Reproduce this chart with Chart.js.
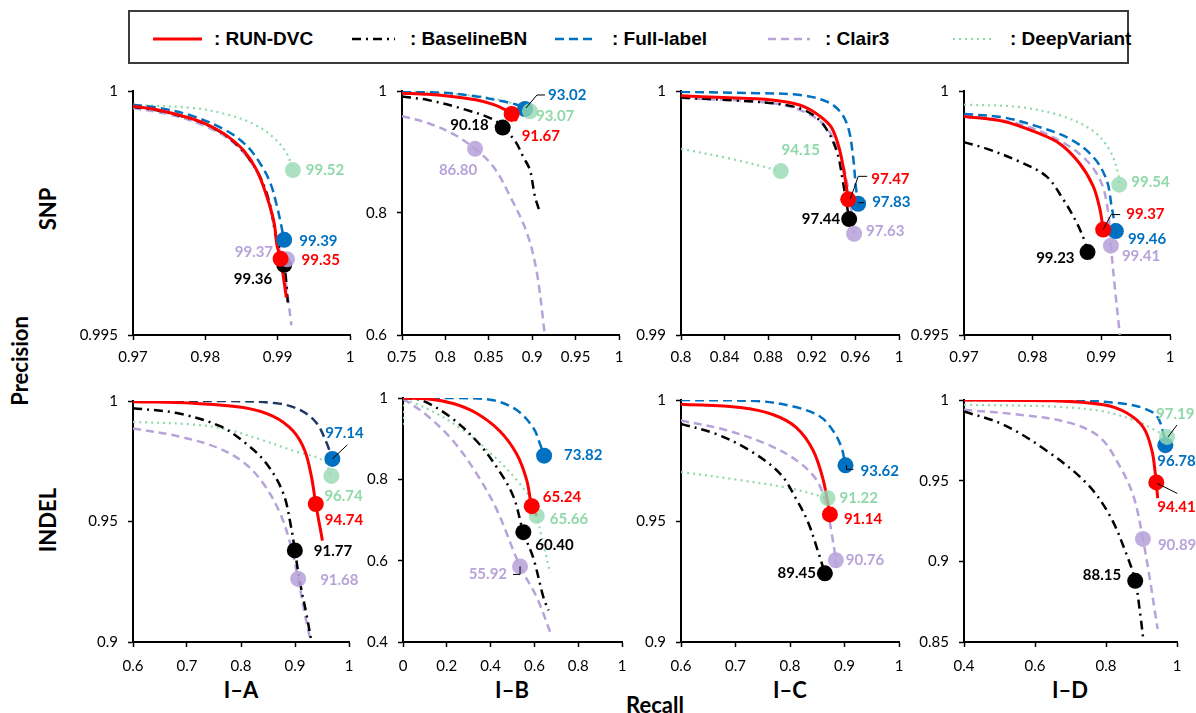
<!DOCTYPE html>
<html>
<head>
<meta charset="utf-8">
<script src="https://cdn.jsdelivr.net/npm/chart.js@4.4.1/dist/chart.umd.min.js"></script>
<style>
  html, body { margin: 0; padding: 0; background: #fff; }
  body { width: 1196px; height: 713px; position: relative; overflow: hidden; font-family: Lato, "Liberation Sans", sans-serif; }
  canvas.panel { position: absolute; }
  .title { position: absolute; font-weight: bold; font-size: 22px; color: #000; white-space: nowrap; transform: translate(-50%, -50%); }
  .title.rot { transform: translate(-50%, -50%) rotate(-90deg); }
  #legend { position: absolute; left: 128px; top: 10px; width: 1001px; height: 54px; border: 2px solid #3c3c3c; box-sizing: border-box; }
  .lg-text { position: absolute; top: 27px; transform: translateY(-50%); font-family: "Liberation Sans", Arial, sans-serif; font-weight: bold; font-size: 19px; color: #000; white-space: nowrap; }
  .lg-sample { position: absolute; top: 22px; }
</style>
</head>
<body>
<div id="legend"></div>
<div class="title rot" style="left:19px; top:361px;">Precision</div>
<div class="title rot" style="left:47px; top:209px;">SNP</div>
<div class="title rot" style="left:47px; top:520px;">INDEL</div>
<div class="title" style="left:241px; top:689px;">I–A</div>
<div class="title" style="left:512px; top:689px;">I–B</div>
<div class="title" style="left:790px; top:689px;">I–C</div>
<div class="title" style="left:1070px; top:689px;">I–D</div>
<div class="title" style="left:655px; top:704px;">Recall</div>

<script>
// ---- series (same order everywhere) ----
const SERIES = ['RUN-DVC', 'BaselineBN', 'Full-label', 'Clair3', 'DeepVariant'];

// ---- SNP, I-A : [recall, precision] ----
const snpA_run   = [[0.970,0.99969],[0.9738,0.9996],[0.9784,0.99942],[0.9807,0.99928],[0.983,0.99908],[0.9853,0.99878],[0.9871,0.99838],[0.9885,0.99784],[0.9895,0.99731],[0.9899,0.99684],[0.9904,0.99656],[0.9912,0.99577]];
const snpA_base  = [[0.970,0.99968],[0.975,0.99955],[0.980,0.99932],[0.984,0.99895],[0.987,0.9984],[0.9888,0.99775],[0.9898,0.9970],[0.9909,0.99644],[0.9914,0.99567]];
const snpA_full  = [[0.970,0.99972],[0.9738,0.99965],[0.9784,0.99948],[0.983,0.99918],[0.9857,0.99888],[0.9876,0.99851],[0.989,0.99811],[0.9899,0.99764],[0.9905,0.99724],[0.9909,0.99695]];
const snpA_clair = [[0.970,0.99965],[0.975,0.99952],[0.980,0.99928],[0.984,0.99893],[0.987,0.99838],[0.9886,0.9978],[0.9897,0.9971],[0.9906,0.9965],[0.9912,0.996],[0.9919,0.9952]];
const snpA_dv    = [[0.970,0.99972],[0.9784,0.99965],[0.983,0.99952],[0.9867,0.99932],[0.9894,0.99905],[0.9913,0.99871],[0.9921,0.99838]];
const snpA_marks = [[0.9904,0.99656],[0.9909,0.99644],[0.9909,0.99695],[0.9913,0.99655],[0.9921,0.99838]];
const snpA_f1    = [99.35, 99.36, 99.39, 99.37, 99.52];
const snpA_xTicks = [0.97, 0.98, 0.99, 1];
const snpA_yTicks = [0.995, 1];

// ---- SNP, I-B ----
const snpB_run   = [[0.75,0.9965],[0.78,0.9945],[0.81,0.9905],[0.835,0.9855],[0.855,0.978],[0.868,0.970],[0.8763,0.9625],[0.882,0.951]];
const snpB_base  = [[0.75,0.9909],[0.7787,0.9855],[0.817,0.972],[0.8553,0.9534],[0.866,0.94],[0.880,0.9186],[0.8898,0.8918],[0.8974,0.8704],[0.9031,0.8276],[0.9089,0.8008]];
const snpB_full  = [[0.75,0.999],[0.7979,0.997],[0.8361,0.991],[0.8629,0.984],[0.8821,0.9775],[0.8917,0.9705]];
const snpB_clair = [[0.75,0.9588],[0.7787,0.948],[0.8093,0.9293],[0.8342,0.9052],[0.8553,0.8758],[0.8744,0.8276],[0.8936,0.7687],[0.9051,0.7044],[0.9146,0.6]];
const snpB_dv    = [[0.75,0.999],[0.80,0.996],[0.84,0.991],[0.87,0.983],[0.89,0.973],[0.8974,0.9668]];
const snpB_marks = [[0.8763,0.9625],[0.866,0.94],[0.8917,0.9705],[0.8342,0.9052],[0.8974,0.9668]];
const snpB_f1    = [91.67, 90.18, 93.02, 86.80, 93.07];
const snpB_xTicks = [0.75, 0.8, 0.85, 0.9, 0.95, 1];
const snpB_yTicks = [0.6, 0.8, 1];

// ---- SNP, I-C ----
const snpC_run   = [[0.8,0.99981],[0.839,0.99973],[0.8695,0.99968],[0.8939,0.99957],[0.9122,0.99937],[0.9274,0.99897],[0.9381,0.9985],[0.9457,0.99756],[0.9503,0.99649],[0.9534,0.99556]];
const snpC_base  = [[0.8,0.99973],[0.8543,0.9996],[0.8939,0.99944],[0.9153,0.99917],[0.9305,0.99863],[0.9427,0.99756],[0.9488,0.99622],[0.9543,0.99475]];
const snpC_full  = [[0.8,0.99997],[0.8695,0.99991],[0.9091,0.99984],[0.9335,0.99957],[0.9457,0.99917],[0.9534,0.9985],[0.9579,0.9973],[0.9604,0.99609],[0.9625,0.99538]];
const snpC_clair = [[0.8,0.99971],[0.8848,0.9995],[0.9153,0.9991],[0.9335,0.9985],[0.9457,0.99743],[0.9534,0.99596],[0.9588,0.99415]];
const snpC_dv    = [[0.8,0.99763],[0.8451,0.99723],[0.8915,0.99672]];
const snpC_marks = [[0.9534,0.99556],[0.9543,0.99475],[0.9625,0.99538],[0.9588,0.99415],[0.8915,0.99672]];
const snpC_f1    = [97.47, 97.44, 97.83, 97.63, 94.15];
const snpC_xTicks = [0.8, 0.84, 0.88, 0.92, 0.96, 1];
const snpC_yTicks = [0.99, 1];

// ---- SNP, I-D ----
const snpD_run   = [[0.97,0.99948],[0.97569,0.99938],[0.98055,0.99915],[0.98395,0.99892],[0.98687,0.99851],[0.98881,0.99805],[0.98979,0.99758],[0.99027,0.99716]];
const snpD_base  = [[0.97,0.99895],[0.97326,0.99882],[0.97812,0.99855],[0.98201,0.99825],[0.98444,0.99778],[0.98638,0.99731],[0.9876,0.99691],[0.98799,0.9967]];
const snpD_full  = [[0.97,0.99953],[0.97569,0.99946],[0.98055,0.99928],[0.98541,0.99902],[0.98881,0.99865],[0.99076,0.99818],[0.99149,0.99764],[0.99212,0.99713]];
const snpD_clair = [[0.97,0.9995],[0.97812,0.99932],[0.98395,0.99898],[0.98784,0.99858],[0.99003,0.99811],[0.991,0.99751],[0.99139,0.99683],[0.99197,0.99597],[0.9927,0.995]];
const snpD_dv    = [[0.97,0.99972],[0.97812,0.99967],[0.98444,0.99948],[0.98881,0.99918],[0.99124,0.99878],[0.99246,0.99831],[0.99261,0.99808]];
const snpD_marks = [[0.99027,0.99716],[0.98799,0.9967],[0.99212,0.99713],[0.99139,0.99683],[0.99261,0.99808]];
const snpD_f1    = [99.37, 99.23, 99.46, 99.41, 99.54];
const snpD_xTicks = [0.97, 0.98, 0.99, 1];
const snpD_yTicks = [0.995, 1];

// ---- INDEL, I-A ----
const indelA_run   = [[0.6,0.99973],[0.712,0.99905],[0.8043,0.99729],[0.8597,0.99362],[0.8966,0.98752],[0.9182,0.97937],[0.9305,0.96852],[0.9385,0.95726],[0.9508,0.94206]];
const indelA_base  = [[0.6,0.99701],[0.6812,0.99498],[0.7612,0.98955],[0.8105,0.98209],[0.8474,0.97395],[0.8782,0.96174],[0.8935,0.94681],[0.8997,0.93799],[0.9089,0.9251],[0.9212,0.91153],[0.9305,0.9]];
const indelA_full  = [[0.6,1],[0.7735,1],[0.8658,0.99905],[0.9089,0.99634],[0.9397,0.99091],[0.9582,0.98277],[0.9692,0.97598]];
const indelA_clair = [[0.6,0.9886],[0.6812,0.98548],[0.7551,0.98073],[0.8043,0.97463],[0.8412,0.96581],[0.872,0.9536],[0.8905,0.94138],[0.9058,0.92619],[0.9182,0.91153],[0.9286,0.90068]];
const indelA_dv    = [[0.6,0.99132],[0.712,0.99023],[0.7735,0.9882],[0.8351,0.98412],[0.8966,0.97937],[0.952,0.9753],[0.9674,0.96893]];
const indelA_marks = [[0.9385,0.95726],[0.8997,0.93799],[0.9692,0.97598],[0.9058,0.92619],[0.9674,0.96893]];
const indelA_f1    = [94.74, 91.77, 97.14, 91.68, 96.74];
const indelA_xTicks = [0.6, 0.7, 0.8, 0.9, 1];
const indelA_yTicks = [0.9, 0.95, 1];

// ---- INDEL, I-B ----
const indelB_run   = [[0,1],[0.1069,0.9984],[0.229,0.9864],[0.3359,0.9624],[0.4427,0.9183],[0.5191,0.8622],[0.5649,0.7982],[0.5878,0.7341],[0.6107,0.71]];
const indelB_base  = [[0,1],[0.084,0.9944],[0.2137,0.9543],[0.3359,0.8943],[0.4275,0.8302],[0.5038,0.7581],[0.5496,0.67],[0.5954,0.606],[0.6412,0.5099],[0.6641,0.4778]];
const indelB_full  = [[0,1],[0.2595,1],[0.4122,0.9944],[0.5191,0.9704],[0.5954,0.9263],[0.626,0.8863],[0.6443,0.8582]];
const indelB_clair = [[0,0.9984],[0.1069,0.9583],[0.229,0.8943],[0.3359,0.8142],[0.4275,0.7261],[0.5344,0.5859],[0.6107,0.5099],[0.6794,0.4137]];
const indelB_dv    = [[0,0.9343],[0,0.9904],[0.1069,0.9744],[0.2595,0.9263],[0.4122,0.8582],[0.5191,0.7982],[0.5954,0.742],[0.6107,0.71],[0.6718,0.5698]];
const indelB_marks = [[0.5878,0.7341],[0.5496,0.67],[0.6443,0.8582],[0.5344,0.5859],[0.6107,0.71]];
const indelB_f1    = [65.24, 60.40, 73.82, 55.92, 65.66];
const indelB_xTicks = [0, 0.2, 0.4, 0.6, 0.8, 1];
const indelB_yTicks = [0.4, 0.6, 0.8, 1];

// ---- INDEL, I-C ----
const indelC_run   = [[0.6,0.99824],[0.7085,0.99689],[0.7695,0.99392],[0.8122,0.98851],[0.8427,0.97905],[0.861,0.96689],[0.8732,0.9527]];
const indelC_base  = [[0.6,0.99014],[0.6659,0.98581],[0.7268,0.97905],[0.7817,0.96959],[0.8122,0.95878],[0.8335,0.94932],[0.8518,0.93716],[0.864,0.92838]];
const indelC_full  = [[0.6,1],[0.739,0.9996],[0.8061,0.9973],[0.8549,0.9932],[0.8793,0.9872],[0.8945,0.9804],[0.9018,0.973]];
const indelC_clair = [[0.6,0.99149],[0.678,0.98784],[0.7573,0.98176],[0.8122,0.975],[0.8488,0.96689],[0.8671,0.95608],[0.8762,0.94527],[0.8841,0.93378],[0.8854,0.92905]];
const indelC_dv    = [[0.6,0.97027],[0.7085,0.96689],[0.8,0.96351],[0.8689,0.95946]];
const indelC_marks = [[0.8732,0.9527],[0.864,0.92838],[0.9018,0.973],[0.8841,0.93378],[0.8689,0.95946]];
const indelC_f1    = [91.14, 89.45, 93.62, 90.76, 91.22];
const indelC_xTicks = [0.6, 0.7, 0.8, 0.9, 1];
const indelC_yTicks = [0.9, 0.95, 1];

// ---- INDEL, I-D ----
const indelD_run   = [[0.4,1],[0.6515,0.9996],[0.7928,0.997],[0.8588,0.9919],[0.9059,0.9828],[0.9294,0.9686],[0.9389,0.9544],[0.9417,0.9489],[0.9455,0.9392]];
const indelD_base  = [[0.4,0.9929],[0.5102,0.9848],[0.6327,0.9686],[0.7457,0.9483],[0.8116,0.928],[0.8588,0.9037],[0.8823,0.8879],[0.8965,0.8672],[0.9059,0.85]];
const indelD_full  = [[0.4,1],[0.6986,1],[0.84,0.998],[0.9059,0.9949],[0.9436,0.9899],[0.9624,0.9787],[0.9671,0.972]];
const indelD_clair = [[0.4,0.9939],[0.5573,0.9909],[0.6986,0.9858],[0.7834,0.9767],[0.84,0.9584],[0.8776,0.9402],[0.904,0.9139],[0.9247,0.8875],[0.9389,0.8672],[0.9455,0.8581]];
const indelD_dv    = [[0.4,0.997],[0.6515,0.9959],[0.7928,0.9929],[0.8871,0.9868],[0.9342,0.9818],[0.9719,0.9771]];
const indelD_marks = [[0.9417,0.9489],[0.8823,0.8879],[0.9671,0.972],[0.904,0.9139],[0.9719,0.9771]];
const indelD_f1    = [94.41, 88.15, 96.78, 90.89, 97.19];
const indelD_xTicks = [0.4, 0.6, 0.8, 1];
const indelD_yTicks = [0.85, 0.9, 0.95, 1];

// ---- styles ----
const LINE_STYLE = [
  { color: '#FF0000', width: 3,   dash: [] },
  { color: '#000000', width: 2.5, dash: [9, 5, 2, 5] },
  { color: '#0070C0', width: 2.5, dash: [9, 5] },
  { color: '#B7A3DA', width: 2.5, dash: [8, 5] },
  { color: '#8FD9A8', width: 2.2, dash: [2, 4] }
];
const MARK_COLOR  = ['#FF0000', '#000000', '#0070C0', 'rgba(183,163,218,0.88)', 'rgba(150,218,178,0.8)'];
const LABEL_COLOR = ['#FF0000', '#000000', '#0070C0', '#B7A3DA', '#8FD9A8'];
const LINE_ORDER  = [10, 12, 11, 13, 14];
const MARK_ORDER  = [0, 4, 2, 3, 1];

const Y_AXIS_W = 62, X_AXIS_H = 38, PAD_TOP = 14;

// label placement per series: align, offset from marker centre, optional leader polyline
const panels = [
  { box: {l:133, r:350, t:86, b:335}, padR: 40, x: [0.97, 1], y: [0.995, 1], tickPad: 8,
    curves: [snpA_run, snpA_base, snpA_full, snpA_clair, snpA_dv], marks: snpA_marks, f1: snpA_f1,
    xTicks: snpA_xTicks, yTicks: snpA_yTicks,
    place: [ {a:'left', dx:21, dy:1}, {a:'right', dx:-12, dy:14}, {a:'left', dx:15, dy:1},
             {a:'right', dx:-14, dy:-7}, {a:'left', dx:13, dy:0} ] },
  { box: {l:402, r:619, t:86, b:335}, padR: 45, x: [0.75, 1], y: [0.6, 1], tickPad: 8,
    curves: [snpB_run, snpB_base, snpB_full, snpB_clair, snpB_dv], marks: snpB_marks, f1: snpB_f1,
    xTicks: snpB_xTicks, yTicks: snpB_yTicks,
    place: [ {a:'left', dx:10, dy:22}, {a:'right', dx:-14, dy:-2},
             {a:'left', dx:23, dy:-14, leader:[[1,-1],[12,-14],[20,-14]]},
             {a:'center', dx:-17, dy:21}, {a:'left', dx:6, dy:5} ] },
  { box: {l:681, r:899, t:86, b:335}, padR: 40, x: [0.8, 1], y: [0.99, 1], tickPad: 8,
    curves: [snpC_run, snpC_base, snpC_full, snpC_clair, snpC_dv], marks: snpC_marks, f1: snpC_f1,
    xTicks: snpC_xTicks, yTicks: snpC_yTicks,
    place: [ {a:'left', dx:23, dy:-20, leader:[[2,0],[10,-23],[19,-23]]},
             {a:'right', dx:-9, dy:0},
             {a:'left', dx:14, dy:-2, leader:[[0,-1],[6,-1]]},
             {a:'left', dx:12, dy:-3}, {a:'center', dx:20, dy:-21} ] },
  { box: {l:964, r:1170, t:86, b:335}, padR: 26, x: [0.97, 1], y: [0.995, 1], tickPad: 8,
    curves: [snpD_run, snpD_base, snpD_full, snpD_clair, snpD_dv], marks: snpD_marks, f1: snpD_f1,
    xTicks: snpD_xTicks, yTicks: snpD_yTicks,
    place: [ {a:'left', dx:23, dy:-15, leader:[[0,0],[8,-15],[17,-15]]},
             {a:'right', dx:-13, dy:6}, {a:'left', dx:12, dy:8},
             {a:'left', dx:11, dy:10}, {a:'left', dx:12, dy:-3} ] },
  { box: {l:133, r:349, t:396, b:642}, padR: 30, x: [0.6, 1], y: [0.9, 1], tickPad: 10, fullColor: '#1F3864',
    curves: [indelA_run, indelA_base, indelA_full, indelA_clair, indelA_dv], marks: indelA_marks, f1: indelA_f1,
    xTicks: indelA_xTicks, yTicks: indelA_yTicks,
    place: [ {a:'left', dx:9, dy:16}, {a:'left', dx:19, dy:1},
             {a:'left', dx:-7, dy:-26, leader:[[0,0],[15,-14]]},
             {a:'left', dx:22, dy:1}, {a:'left', dx:-7, dy:20} ] },
  { box: {l:403, r:622, t:393, b:642}, padR: 30, x: [0, 1], y: [0.4, 1], tickPad: 10,
    curves: [indelB_run, indelB_base, indelB_full, indelB_clair, indelB_dv], marks: indelB_marks, f1: indelB_f1,
    xTicks: indelB_xTicks, yTicks: indelB_yTicks,
    place: [ {a:'left', dx:11, dy:-9}, {a:'left', dx:12, dy:13}, {a:'left', dx:20, dy:-1},
             {a:'right', dx:-13, dy:8, leader:[[0,0],[0,8],[-7,8]]}, {a:'left', dx:13, dy:3} ] },
  { box: {l:681, r:899, t:395, b:642}, padR: 30, x: [0.6, 1], y: [0.9, 1], tickPad: 10,
    curves: [indelC_run, indelC_base, indelC_full, indelC_clair, indelC_dv], marks: indelC_marks, f1: indelC_f1,
    xTicks: indelC_xTicks, yTicks: indelC_yTicks,
    place: [ {a:'left', dx:14, dy:5}, {a:'right', dx:-9, dy:0},
             {a:'left', dx:15, dy:6, leader:[[1,0],[1,4],[8,4]]},
             {a:'left', dx:10, dy:0}, {a:'left', dx:12, dy:0} ] },
  { box: {l:964, r:1177, t:395, b:642}, padR: 19, x: [0.4, 1], y: [0.85, 1], tickPad: 10,
    curves: [indelD_run, indelD_base, indelD_full, indelD_clair, indelD_dv], marks: indelD_marks, f1: indelD_f1,
    xTicks: indelD_xTicks, yTicks: indelD_yTicks,
    place: [ {a:'left', dx:1, dy:25, leader:[[1,1],[21,11]]},
             {a:'right', dx:-14, dy:-6}, {a:'left', dx:-8, dy:16},
             {a:'left', dx:15, dy:6}, {a:'left', dx:-11, dy:-23, leader:[[1,0],[10,-12]]} ] }
];

const fmtTick = v => String(+Number(v).toFixed(4));

function f1LabelPlugin(p) {
  return {
    id: 'f1Labels',
    afterDraw(chart) {
      const ctx = chart.ctx, xs = chart.scales.x, ys = chart.scales.y;
      ctx.save();
      p.marks.forEach(([rec, prec], i) => {
        const px = xs.getPixelForValue(rec), py = ys.getPixelForValue(prec);
        const L = p.place[i];
        if (L.leader) {
          ctx.beginPath();
          ctx.strokeStyle = '#000';
          ctx.lineWidth = 1;
          L.leader.forEach(([dx, dy], k) => k ? ctx.lineTo(px + dx, py + dy) : ctx.moveTo(px + dx, py + dy));
          ctx.stroke();
        }
        ctx.font = 'bold 15px Lato';
        ctx.fillStyle = LABEL_COLOR[i];
        ctx.textAlign = L.a;
        ctx.textBaseline = 'middle';
        ctx.fillText(p.f1[i].toFixed(2), px + L.dx, py + L.dy);
      });
      ctx.restore();
    }
  };
}

function axis(min, max, ticks, isX, pad) {
  return {
    type: 'linear', min, max,
    afterBuildTicks: s => { s.ticks = ticks.map(v => ({ value: v })); },
    afterFit: s => { if (isX) s.height = X_AXIS_H; else s.width = Y_AXIS_W; },
    ticks: { callback: fmtTick, autoSkip: false, maxRotation: 0, color: '#000',
             font: { family: 'Lato', size: 15 }, padding: isX ? pad : 10 },
    grid: { display: true, drawOnChartArea: false, drawTicks: true, tickLength: 5,
            tickColor: '#000', tickWidth: 1.5, color: '#000' },
    border: { display: true, color: '#000', width: 2 }
  };
}

panels.forEach(p => {
  const cv = document.createElement('canvas');
  cv.className = 'panel';
  const w = (p.box.r - p.box.l) + Y_AXIS_W + p.padR;
  const h = (p.box.b - p.box.t) + PAD_TOP + X_AXIS_H;
  cv.width = w; cv.height = h;
  cv.style.left = (p.box.l - Y_AXIS_W) + 'px';
  cv.style.top = (p.box.t - PAD_TOP) + 'px';
  cv.style.width = w + 'px'; cv.style.height = h + 'px';
  document.body.appendChild(cv);

  const datasets = [];
  p.curves.forEach((pts, i) => {
    const st = LINE_STYLE[i];
    datasets.push({
      label: SERIES[i],
      data: pts.map(([x, y]) => ({ x, y })),
      showLine: true, pointRadius: 0, pointHoverRadius: 0,
      borderColor: (i === 2 && p.fullColor) ? p.fullColor : st.color,
      borderWidth: st.width, borderDash: st.dash, borderCapStyle: 'butt',
      tension: 0.35, fill: false, order: LINE_ORDER[i]
    });
  });
  p.marks.forEach(([x, y], i) => {
    datasets.push({
      label: SERIES[i] + ' point',
      data: [{ x, y }],
      showLine: false, pointRadius: 8, pointHoverRadius: 8,
      pointBackgroundColor: MARK_COLOR[i], pointBorderWidth: 0, pointBorderColor: 'transparent',
      order: MARK_ORDER[i]
    });
  });

  new Chart(cv, {
    type: 'scatter',
    data: { datasets },
    options: {
      responsive: false, animation: false, devicePixelRatio: 1, events: [],
      layout: { padding: { top: PAD_TOP, right: p.padR, left: 0, bottom: 0 } },
      plugins: { legend: { display: false }, tooltip: { enabled: false } },
      scales: { x: axis(p.x[0], p.x[1], p.xTicks, true, p.tickPad), y: axis(p.y[0], p.y[1], p.yTicks, false) }
    },
    plugins: [f1LabelPlugin(p)]
  });
});

// ---- legend ----
const LEGEND_POS = [ {s:[153,202], t:214}, {s:[352,395], t:410}, {s:[555,597], t:612},
                     {s:[768,810], t:825}, {s:[953,995], t:1010} ];
const legend = document.getElementById('legend');
SERIES.forEach((name, i) => {
  const pos = LEGEND_POS[i], st = LINE_STYLE[i];
  const x0 = pos.s[0] - 130, len = pos.s[1] - pos.s[0];
  const svg = document.createElementNS('http://www.w3.org/2000/svg', 'svg');
  svg.setAttribute('class', 'lg-sample');
  svg.setAttribute('width', len); svg.setAttribute('height', 10);
  svg.style.left = x0 + 'px';
  const ln = document.createElementNS('http://www.w3.org/2000/svg', 'line');
  ln.setAttribute('x1', 0); ln.setAttribute('x2', len);
  ln.setAttribute('y1', 5); ln.setAttribute('y2', 5);
  ln.setAttribute('stroke', st.color);
  ln.setAttribute('stroke-width', st.width);
  if (st.dash.length) ln.setAttribute('stroke-dasharray', st.dash.join(' '));
  svg.appendChild(ln);
  legend.appendChild(svg);
  const tx = document.createElement('div');
  tx.className = 'lg-text';
  tx.style.left = (pos.t - 130) + 'px';
  tx.textContent = ': ' + name;
  legend.appendChild(tx);
});
</script>
</body>
</html>
